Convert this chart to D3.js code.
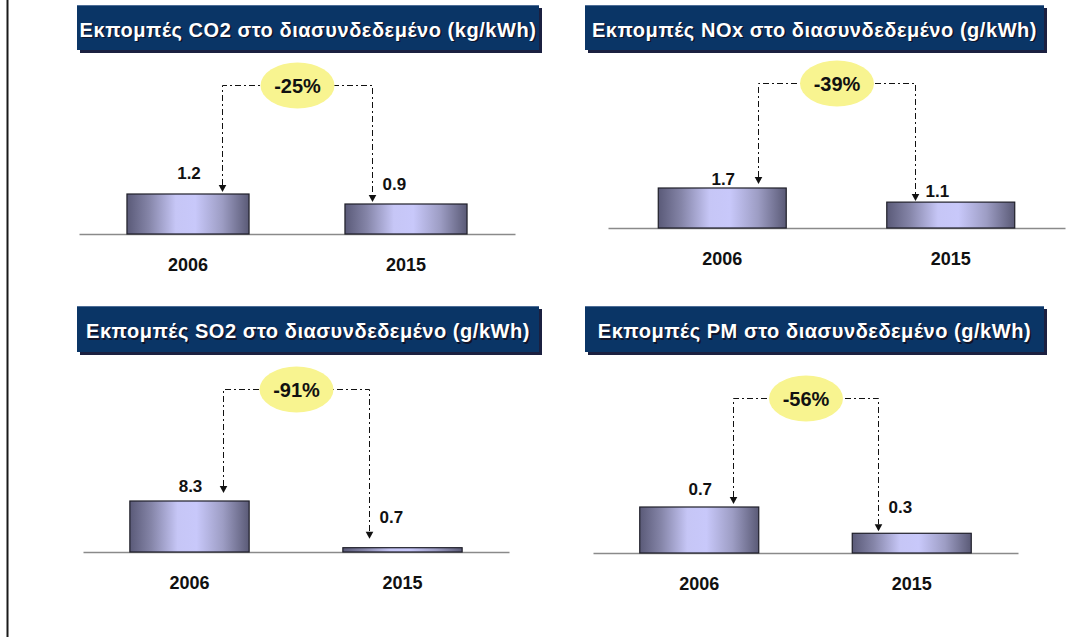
<!DOCTYPE html>
<html>
<head>
<meta charset="utf-8">
<script src="https://cdn.jsdelivr.net/npm/d3@7"></script>
<style>
  html, body { margin: 0; padding: 0; background: #ffffff; }
  svg { display: block; font-family: Arial, "Liberation Sans", Helvetica, sans-serif; }
</style>
</head>
<body>
<svg id="chart" width="1079" height="637"></svg>
<script>
// ---- data ----
const panelTitles = [
  "Εκπομπές CO2 στο διασυνδεδεμένο (kg/kWh)",
  "Εκπομπές NOx στο διασυνδεδεμένο (g/kWh)",
  "Εκπομπές SO2 στο διασυνδεδεμένο (g/kWh)",
  "Εκπομπές PM στο διασυνδεδεμένο (g/kWh)"
];
const categories = ["2006", "2015"];
const values2006 = [1.2, 1.7, 8.3, 0.7];
const values2015 = [0.9, 1.1, 0.7, 0.3];
const valueLabels2006 = ["1.2", "1.7", "8.3", "0.7"];
const valueLabels2015 = ["0.9", "1.1", "0.7", "0.3"];
const changeLabels = ["-25%", "-39%", "-91%", "-56%"];

// ---- layout (positions / sizes only) ----
const layout = [
  { box: [77, 5, 462, 45],  axis: [79, 515, 234],   barMaxH: 40, bracketY: 85,  tipGap: [2, 2], labelGap: [15, 14] },
  { box: [585, 5, 459, 45], axis: [608, 1065, 228], barMaxH: 40, bracketY: 83,  tipGap: [4, 1], labelGap: [3, 5] },
  { box: [77, 306, 462, 46], axis: [83, 509, 552],  barMaxH: 51, bracketY: 389, tipGap: [8, 9], labelGap: [9, 25] },
  { box: [585, 306, 459, 46], axis: [593, 1018, 553], barMaxH: 46, bracketY: 398, tipGap: [3, 2], labelGap: [12, 20] }
];

const svg = d3.select("#chart");
const defs = svg.append("defs");

const grad = defs.append("linearGradient").attr("id", "barGrad")
  .attr("x1", "0%").attr("x2", "100%").attr("y1", "0%").attr("y2", "0%");
[[0, "#5a5a78"], [0.18, "#8585a8"], [0.40, "#c6c6f6"], [0.56, "#c8c8fa"], [0.78, "#9d9dc4"], [1, "#5a5a76"]]
  .forEach(([o, c]) => grad.append("stop").attr("offset", o).attr("stop-color", c));

// left frame line
svg.append("line").attr("x1", 7.5).attr("x2", 7.5).attr("y1", 0).attr("y2", 637)
  .attr("stroke", "#1a1a1a").attr("stroke-width", 2);

layout.forEach((L, i) => {
  const g = svg.append("g");
  const vals = [values2006[i], values2015[i]];
  const vLabels = [valueLabels2006[i], valueLabels2015[i]];

  // title box with shadow
  const [bx, by, bw, bh] = L.box;
  g.append("rect").attr("x", bx + 3).attr("y", by + 3).attr("width", bw).attr("height", bh).attr("fill", "#1b2040");
  g.append("rect").attr("x", bx).attr("y", by).attr("width", bw).attr("height", bh).attr("fill", "#0a3566");
  g.append("line").attr("x1", bx).attr("x2", bx + bw).attr("y1", by + 0.5).attr("y2", by + 0.5)
    .attr("stroke", "#4d6d96").attr("stroke-width", 1);
  const tx = bx + bw / 2, ty = by + bh / 2 + 9;
  [[1.5, "#10142a"], [0, "#ffffff"]].forEach(([off, col]) => {
    g.append("text").attr("x", tx + off).attr("y", ty + off).attr("text-anchor", "middle")
      .attr("font-size", 20).attr("font-weight", "bold").attr("letter-spacing", 0.55)
      .attr("fill", col).text(panelTitles[i]);
  });

  // scales
  const [ax0, ax1, base] = L.axis;
  const x = d3.scaleBand().domain(categories).range([ax0, ax1]).paddingInner(0.44).paddingOuter(0.22);
  const y = d3.scaleLinear().domain([0, d3.max(vals)]).range([base, base - L.barMaxH]);

  // baseline (axis)
  const axis = d3.axisBottom(x).tickSize(0).tickPadding(0).tickFormat("");
  const axG = g.append("g").attr("transform", `translate(0,${base})`).call(axis);
  axG.select(".domain").attr("stroke", "#8a8a8a").attr("stroke-width", 1.5);

  // bars
  g.selectAll("rect.bar").data(categories).enter().append("rect").attr("class", "bar")
    .attr("x", d => x(d)).attr("width", x.bandwidth())
    .attr("y", (d, j) => y(vals[j])).attr("height", (d, j) => base - y(vals[j]))
    .attr("fill", "url(#barGrad)").attr("stroke", "#1e1e28").attr("stroke-width", 1.2);

  // category labels
  g.selectAll("text.cat").data(categories).enter().append("text").attr("class", "cat")
    .attr("x", d => x(d) + x.bandwidth() / 2).attr("y", base + 37)
    .attr("text-anchor", "middle").attr("font-size", 18).attr("font-weight", "bold").attr("fill", "#111")
    .text(d => d);

  // bracket
  const xL = Math.round(x(categories[0]) + x.bandwidth() / 2 + 0.28 * x.bandwidth()) + 0.5;
  const xR = Math.round(x(categories[1]) + x.bandwidth() / 2 - 0.28 * x.bandwidth()) + 0.5;
  const tipL = y(vals[0]) - L.tipGap[0];
  const tipR = y(vals[1]) - L.tipGap[1];
  const ah = 7, aw = 3.8;
  const bY = Math.round(L.bracketY) + 0.5;
  g.append("path")
    .attr("d", `M${xL},${tipL - ah} L${xL},${bY} L${xR},${bY} L${xR},${tipR - ah}`)
    .attr("fill", "none").attr("stroke", "#111").attr("stroke-width", 1)
    .attr("stroke-dasharray", "6,3,2,3");
  [[xL, tipL], [xR, tipR]].forEach(([ax, ay]) => {
    g.append("path").attr("d", `M${ax - aw},${ay - ah} L${ax + aw},${ay - ah} L${ax},${ay} Z`).attr("fill", "#111");
  });

  // change ellipse
  const ex = (xL + xR) / 2;
  g.append("ellipse").attr("cx", ex).attr("cy", bY).attr("rx", 37).attr("ry", 23).attr("fill", "#f8f490");
  g.append("text").attr("x", ex).attr("y", bY + 7).attr("text-anchor", "middle")
    .attr("font-size", 20).attr("font-weight", "bold").attr("fill", "#111").text(changeLabels[i]);

  // value labels
  g.append("text").attr("x", x(categories[0]) + x.bandwidth() / 2 + 1).attr("y", y(vals[0]) - L.labelGap[0])
    .attr("text-anchor", "middle").attr("font-size", 17).attr("font-weight", "bold").attr("fill", "#111")
    .text(vLabels[0]);
  g.append("text").attr("x", xR + 10).attr("y", y(vals[1]) - L.labelGap[1])
    .attr("text-anchor", "start").attr("font-size", 17).attr("font-weight", "bold").attr("fill", "#111")
    .text(vLabels[1]);
});
</script>
</body>
</html>
